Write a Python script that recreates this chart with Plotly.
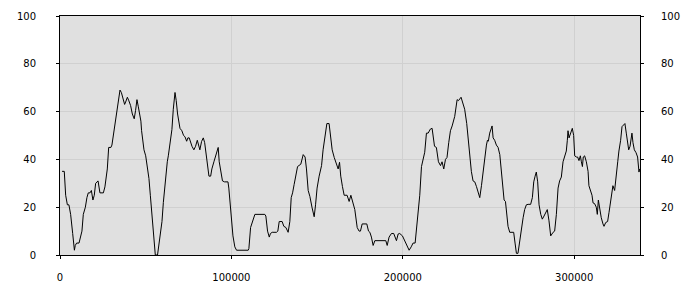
import plotly.graph_objects as go

x_vals = [1200, 2500, 3300, 4300, 5200, 6200, 7400, 8400, 8900, 9700, 11100, 12100, 12800, 13600, 14800, 15700, 16500, 17500, 18300, 19200,
          20000, 20800, 22200, 23300, 25300, 26200, 27200, 27600, 28400, 29700, 30300, 31300, 32100, 32700, 33400, 34200, 35000, 35800, 36500, 37700,
          38300, 39300, 40200, 41200, 42200, 43300, 44100, 44900, 45700, 46600, 47200, 47600, 48200, 49000, 50000, 51100, 51900, 52700, 53400, 54200,
          54800, 55600, 56900, 57700, 58500, 59500, 60300, 61000, 61600, 62600, 63200, 63900, 64700, 65300, 66100, 67100, 67800, 68600, 70000, 71100,
          72100, 72900, 73900, 74600, 75400, 76200, 77000, 78100, 79100, 80100, 80900, 81600, 82600, 83600, 84400, 85100, 85900, 86900, 87900, 88600,
          89800, 91200, 92300, 92900, 93700, 94800, 96000, 98000, 98500, 99300, 99900, 100900, 102000, 103000, 109800, 110200, 111200, 112300, 113700, 119500,
          120100, 121100, 122100, 122800, 123800, 126300, 127100, 127900, 129600, 130600, 131800, 133100, 134100, 134900, 135700, 136600, 137600, 138600, 140500, 141900,
          143000, 143800, 144800, 145800, 147100, 148300, 149100, 150000, 151200, 152600, 153500, 154500, 155700, 157000, 157800, 158800, 160000, 160900, 162300, 163100,
          163800, 164800, 165800, 167500, 168700, 169700, 170600, 172000, 173400, 174500, 175300, 176300, 179000, 180000, 180800, 181700, 182700, 183700, 190100, 190900,
          192000, 193400, 194700, 196300, 197300, 198200, 199800, 201200, 203700, 204900, 206000, 207200, 208200, 209100, 209900, 210900, 211900, 212800, 213800, 214800,
          216100, 217100, 218500, 219600, 220800, 222000, 222900, 223900, 224900, 225800, 226800, 227800, 228800, 230300, 231700, 232500, 234000, 235200, 236100, 237300,
          238100, 239100, 240000, 241000, 242000, 243000, 243900, 244900, 245900, 246800, 247800, 248800, 249400, 249900, 250700, 251500, 252100, 252700, 253600, 254600,
          255600, 256600, 257500, 258100, 259100, 259900, 260600, 261400, 262400, 264700, 265500, 266300, 267200, 268200, 269200, 270200, 271100, 272100, 273100, 274600,
          275600, 276400, 277200, 277900, 278700, 279500, 280500, 281400, 282400, 283400, 284300, 285300, 286300, 287700, 288600, 289600, 290600, 291500, 292500, 293500,
          294500, 295400, 296000, 296400, 297000, 297600, 298300, 298900, 299700, 300300, 301300, 302000, 302800, 303600, 304200, 304800, 305300, 306100, 307100, 308100,
          308600, 309600, 310400, 311000, 311900, 312900, 313500, 314100, 314900, 315800, 316800, 317400, 318400, 319500, 320300, 321100, 321900, 322600, 323600, 324600,
          325400, 326100, 327100, 327900, 328900, 329600, 330400, 331200, 331800, 332600, 333100, 333700, 334300, 335100, 336100, 337000, 337800, 338200]

y_vals = [35, 35, 25, 21, 21, 17, 9, 2, 4, 5, 5, 7.5, 10, 17, 20, 24, 26, 26, 27, 23,
          25, 30, 31, 26, 26, 28.5, 33, 36, 45, 45, 46, 51, 54, 58, 60.5, 64, 69, 68, 66, 63,
          64, 66, 64.5, 62.5, 59, 57, 60.5, 65, 62, 58, 56, 52, 48, 44, 41.5, 37, 32, 25, 18, 11.5,
          6, 0, 0, 4, 9, 14, 22, 28, 33, 39, 41.5, 45.5, 50, 52.5, 61, 68, 64.6, 59, 53, 52,
          50, 49.5, 47.6, 49, 49, 47, 45.5, 44, 45.5, 48, 45.5, 44, 47.5, 49, 47, 43, 39, 33, 33, 36,
          39, 42, 45, 39, 35, 31, 30.6, 30.6, 28, 21, 14, 8, 3.4, 2, 2, 2.7, 11.5, 14, 17, 17,
          16.3, 10, 7.5, 9, 9.5, 9.5, 10, 14, 14, 12, 11.5, 9.5, 14, 24, 26, 29.5, 33, 37, 38, 42,
          41, 36, 27, 24.5, 19.7, 16, 21, 28, 33, 37.4, 44, 50, 55, 55, 50, 44, 40.8, 38.8, 36, 38.8,
          33, 28.6, 25, 25, 22.4, 25, 22.4, 19, 11.5, 10, 10, 13, 13, 10, 9.5, 7.5, 4, 6, 6, 4,
          7.5, 9, 9, 6, 8.8, 9, 8, 6, 2, 3.4, 5, 5, 11.5, 18, 25, 37, 40, 43, 51, 51,
          52.7, 53, 45.5, 45, 39, 37.4, 39, 36, 40, 40.8, 47, 52, 54, 58, 65, 64.6, 66, 63, 61, 55,
          48, 40, 35, 31, 30.6, 28.6, 26, 24, 29, 35, 40, 46, 48, 47.6, 51, 53, 54, 49, 48, 46,
          45, 42, 35, 28, 23, 22.4, 17, 12, 9.5, 9.5, 5, 0.7, 0.7, 6, 11.5, 15.6, 19, 21, 21.2, 21.2,
          24, 30.6, 33, 34.7, 30.6, 21, 17, 15, 16.3, 17.7, 19, 14.3, 8, 9.5, 10, 17, 28, 31, 32.6, 39,
          42, 43.5, 48, 52, 49, 50.3, 52, 53, 50, 41.5, 41, 41, 39.5, 41.5, 39, 37, 41, 41.5, 39, 35,
          29, 26.5, 25, 21.8, 21.5, 20, 17, 23, 19, 15.6, 13, 12, 13.6, 14, 17.7, 22.4, 27, 29, 27, 32.6,
          39, 43.5, 48, 53.7, 54.4, 55, 51, 47, 44, 45.5, 48, 51, 47, 44, 42.8, 41, 34.7, 36]

x_ticks = [0, 100000, 200000, 300000]
y_ticks = [0, 20, 40, 60, 80, 100]

font = dict(family="DejaVu Sans", size=10, color="#000000")

fig = go.Figure()
fig.add_trace(go.Scatter(x=x_vals, y=y_vals, mode="lines",
                         line=dict(color="#000000", width=1), showlegend=False))
# same series on the right-hand axis (transparent) so that axis is drawn
fig.add_trace(go.Scatter(x=x_vals, y=y_vals, mode="lines", yaxis="y2", opacity=0,
                         line=dict(color="#000000", width=1), showlegend=False,
                         hoverinfo="skip"))

fig.update_layout(
    width=700, height=300,
    margin=dict(l=60, r=60, t=10, b=45),
    paper_bgcolor="#ffffff", plot_bgcolor="#e0e0e0",
    font=font,
    xaxis=dict(range=[0, 338400], tickvals=x_ticks, ticktext=[str(v) for v in x_ticks],
               showgrid=True, gridcolor="#d0d0d0", gridwidth=1, zeroline=False,
               showline=True, linecolor="#000000", linewidth=1, mirror=True,
               ticks="outside", ticklen=3, tickcolor="#000000", ticklabelstandoff=10,
               tickfont=font),
    yaxis=dict(range=[0, 100], tickvals=y_ticks, ticktext=[str(v) for v in y_ticks],
               showgrid=True, gridcolor="#d0d0d0", gridwidth=1, zeroline=False,
               showline=True, linecolor="#000000", linewidth=1, mirror=True,
               ticks="outside", ticklen=3, tickcolor="#000000", ticklabelstandoff=18,
               tickfont=font),
    yaxis2=dict(range=[0, 100], tickvals=y_ticks, ticktext=[str(v) for v in y_ticks],
                overlaying="y", side="right", anchor="x",
                showgrid=False, zeroline=False, showline=False,
                ticks="outside", ticklen=3, tickcolor="#000000", ticklabelstandoff=15,
                tickfont=font),
)

fig.write_html("out.html")
